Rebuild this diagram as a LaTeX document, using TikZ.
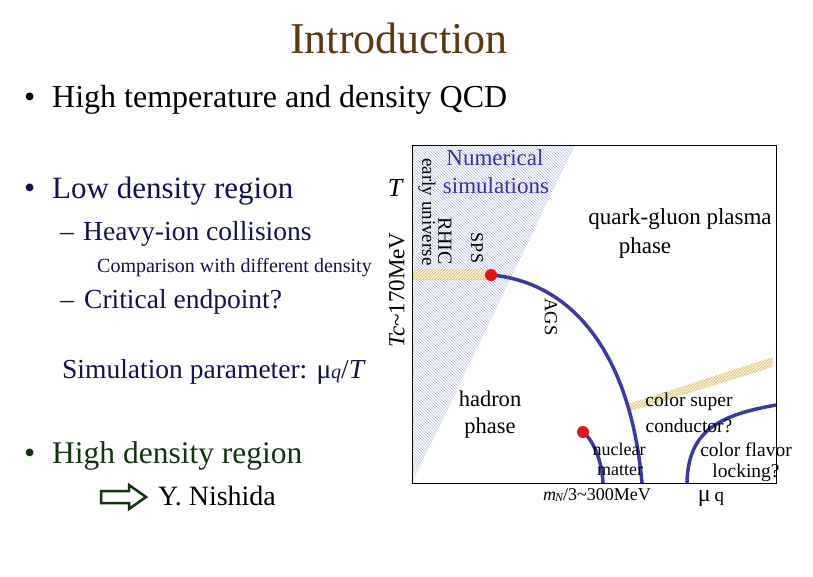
\documentclass[tikz,border=0pt]{standalone}
\usepackage{fontspec}
\setmainfont{Liberation Serif}
\usetikzlibrary{patterns}
\definecolor{titlebrown}{HTML}{5A3A0E}
\definecolor{navy}{HTML}{12124E}
\definecolor{dgreen}{HTML}{123212}
\definecolor{numblue}{HTML}{3434A0}
\definecolor{curveblue}{HTML}{3A3AA0}
\definecolor{hatchblue}{HTML}{B4BAE2}
\definecolor{hatchyellow}{HTML}{D6B662}
\definecolor{cream}{HTML}{FBF3DC}
\definecolor{dotred}{HTML}{E81010}
\newcommand\fsz[1]{\fontsize{#1}{#1}\selectfont}
\begin{document}
\begin{tikzpicture}[x=1pt,y=-1pt,
  txt/.style={inner sep=0pt, anchor=base west},
  lbl/.style={inner sep=0pt, align=center},
  curve/.style={curveblue, line width=3.5pt},
  rdot/.style={circle, fill=dotred, inner sep=0pt, minimum size=12pt}]
\useasboundingbox (0,0) rectangle (813,576);
\fill[white] (0,0) rectangle (813,576);

% ---- left text ----
\node[txt, titlebrown, font=\fsz{44}] (title) at (290,53) {Introduction};
\node[txt, font=\fsz{32}] (b1) at (24,107) {•};
\node[txt, font=\fsz{32}] (t1) at (52,107) {High temperature and density QCD};
\node[txt, navy, font=\fsz{32}] (b2) at (24,198) {•};
\node[txt, navy, font=\fsz{31}] (t2) at (52,198) {Low density region};
\node[txt, navy, font=\fsz{27.5}] (d1) at (60,240) {–};
\node[txt, navy, font=\fsz{27.5}] (t3) at (83,240) {Heavy-ion collisions};
\node[txt, navy, font=\fsz{20}] (t4) at (97,272) {Comparison with different density};
\node[txt, navy, font=\fsz{27.5}] (d2) at (60,308) {–};
\node[txt, navy, font=\fsz{27.5}] (t5) at (84,308) {Critical endpoint?};
\node[txt, navy, font=\fsz{27.5}] (t6) at (62,378) {Simulation parameter: μ{\fsz{20}\textit{q}}/\textit{T}};
\node[txt, dgreen, font=\fsz{32}] (b3) at (24,463) {•};
\node[txt, dgreen, font=\fsz{31.5}] (t7) at (52,463) {High density region};
\draw[dgreen, line width=2.5pt, line join=miter, fill=white]
  (101,491) -- (129,491) -- (129,485) -- (146,497) -- (129,509) -- (129,503) -- (101,503) -- cycle;
\node[txt, black, font=\fsz{28}] (t8) at (158,505) {Y. Nishida};

% ---- phase diagram ----
\fill[pattern=north west lines, pattern color=hatchblue] (412,145) -- (575,145) -- (412,483) -- cycle;
\fill[cream] (412,269) rectangle (491,279);
\fill[pattern=north east lines, pattern color=hatchyellow] (412,269) rectangle (491,279);
\fill[cream] (628,404) -- (773,357) -- (773,367) -- (628,412) -- cycle;
\fill[pattern=north east lines, pattern color=hatchyellow] (628,404) -- (773,357) -- (773,367) -- (628,412) -- cycle;
\node[draw=black, line width=1pt, inner sep=0pt, minimum width=364pt, minimum height=338pt, anchor=north west] (box) at (412,145) {};

\coordinate (cpt) at (491,275);
\coordinate (npt) at (583,432);
\coordinate (mainend) at (642,483);
\coordinate (nucend) at (603,483);
\coordinate (cflstart) at (687,483);
\coordinate (cflend) at (776,405);
\draw[curve] (cpt) .. controls (570,282) and (630,350) .. (mainend);
\draw[curve] (npt) .. controls (593,440) and (602,460) .. (nucend);
\draw[curve] (cflstart) .. controls (688,430) and (720,415) .. (cflend);
\node[rdot] (cp) at (cpt) {};
\node[rdot] (np) at (npt) {};

\node[lbl, font=\fsz{26}\itshape] (T) at (395,188) {T};
\node[lbl, rotate=90, font=\fsz{23}] (tc) at (397,290) {\textit{Tc}\textasciitilde170MeV};
\node[lbl, rotate=-90, font=\fsz{19}] (eu) at (427,212) {early universe};
\node[lbl, rotate=-90, font=\fsz{20}] (rhic) at (445,241) {RHIC};
\node[lbl, rotate=-90, font=\fsz{18}] (sps) at (477,248) {SPS};
\node[lbl, rotate=-90, font=\fsz{18.5}] (ags) at (551,317) {AGS};
\node[lbl, numblue, font=\fsz{23}] (num1) at (495,158) {Numerical};
\node[lbl, numblue, font=\fsz{23}] (num2) at (496,186) {simulations};
\node[lbl, font=\fsz{23}] (qgp1) at (680,219) {quark-gluon plasma};
\node[lbl, font=\fsz{23}] (qgp2) at (645,248) {phase};
\node[lbl, font=\fsz{22.5}] (had1) at (490,399) {hadron};
\node[lbl, font=\fsz{22.5}] (had2) at (490,428) {phase};
\node[lbl, font=\fsz{19.5}] (csc1) at (689,402) {color super};
\node[lbl, font=\fsz{19.5}] (csc2) at (689,426) {conductor?};
\node[lbl, font=\fsz{18}] (nm1) at (619,449) {nuclear};
\node[lbl, font=\fsz{18}] (nm2) at (620,471) {matter};
\node[lbl, font=\fsz{19.5}] (cfl1) at (746,450) {color flavor};
\node[lbl, font=\fsz{19.5}] (cfl2) at (746,473) {locking?};
\node[lbl, font=\fsz{18}] (mn) at (597,495) {\textit{m\kern-1pt\raisebox{-1pt}{\fsz{12}N}}/3\textasciitilde300MeV};
\node[lbl, font=\fsz{24}] (mu) at (711,499) {μ\,{\fsz{19}q}};
\end{tikzpicture}
\end{document}
